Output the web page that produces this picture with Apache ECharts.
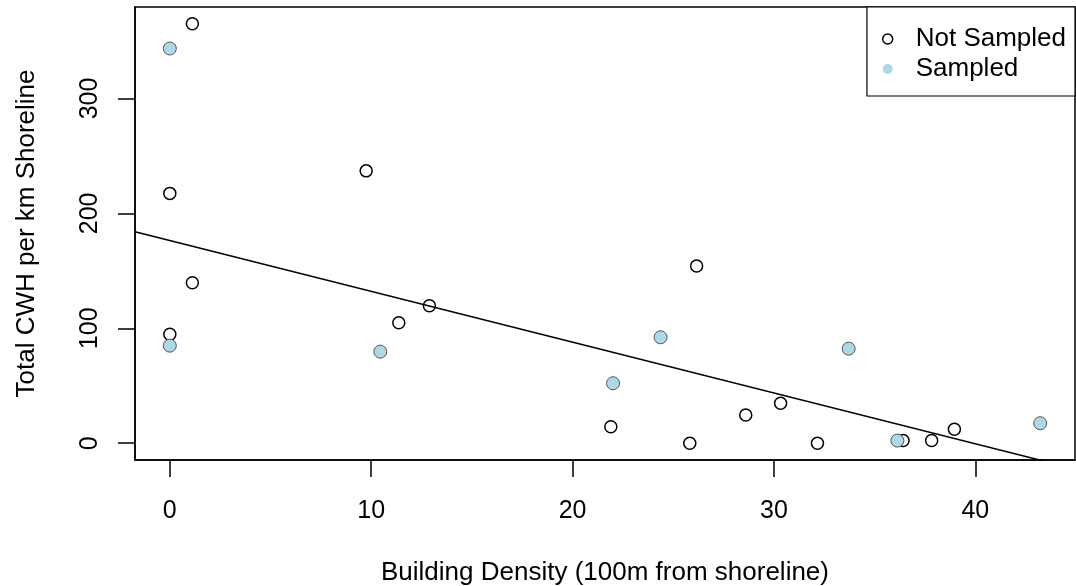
<!DOCTYPE html>
<html>
<head>
<meta charset="utf-8">
<script src="https://cdn.jsdelivr.net/npm/echarts@6/dist/echarts.min.js"></script>
<style>
  html, body { margin: 0; padding: 0; background: #fff; }
  #chart { width: 1076px; height: 586px; }
</style>
</head>
<body>
<div id="chart"></div>
<script>
// building density vs CWH
const notSampledX = [1.12, 9.75, 0, 1.12, 0, 11.37, 12.89, 26.16, 21.9, 25.82, 28.6, 30.33, 32.16, 36.41, 37.83, 38.96];
const notSampledY = [365, 237, 217.4, 139.7, 94.8, 104.9, 119.7, 154.2, 14.4, 0, 24.6, 34.8, 0, 2.3, 2.3, 12.2];
const sampledX = [0, 0, 10.45, 22.01, 24.37, 33.71, 36.13, 43.22];
const sampledY = [343.5, 84.9, 79.7, 52.2, 92.2, 82.3, 2.3, 17.4];
const xTicks = [0, 10, 20, 30, 40];
const yTicks = [0, 100, 200, 300];
// fitted line (lm)
const fitIntercept = 176.3;
const fitSlope = -4.42;

const font = 'Liberation Sans, Arial, Helvetica, sans-serif';

// R style 4% padding on data range
function padRange(vals) {
  let lo = Math.min(...vals), hi = Math.max(...vals);
  let pad = (hi - lo) * 0.04;
  return [lo - pad, hi + pad];
}
let xr = padRange(notSampledX.concat(sampledX));
let yr = padRange(notSampledY.concat(sampledY));

let zip = (xs, ys) => xs.map((x, i) => [x, ys[i]]);
let fitLine = xr.map(x => [x, fitIntercept + fitSlope * x]);

let axisLineStyle = { color: '#000', width: 1.5 };

let option = {
  animation: false,
  backgroundColor: '#fff',
  grid: {
    left: 135, top: 7, right: 1, bottom: 126,
    outerBoundsMode: 'none',
    containLabel: false,
    show: true, borderColor: '#000', borderWidth: 1.5, backgroundColor: 'transparent'
  },
  legend: {
    orient: 'vertical',
    right: 1, top: 7,
    padding: [19, 9, 14, 15],
    itemGap: 4,
    itemWidth: 46,
    itemHeight: 10,
    borderColor: '#000',
    borderWidth: 1.2,
    backgroundColor: '#fff',
    textStyle: { fontFamily: font, fontSize: 26, color: '#000', lineHeight: 26 },
    data: [
      { name: 'Not Sampled', icon: 'circle', itemStyle: { color: '#fff', borderColor: '#000', borderWidth: 1.5 } },
      { name: 'Sampled', icon: 'circle', itemStyle: { color: '#add8e6', borderWidth: 0 } }
    ]
  },
  xAxis: {
    type: 'value',
    position: 'bottom',
    min: xr[0], max: xr[1],
    name: 'Building Density (100m from shoreline)',
    nameLocation: 'middle',
    nameGap: 100,
    nameTextStyle: { fontFamily: font, fontSize: 26, color: '#000' },
    axisLine: { show: true, onZero: false, lineStyle: axisLineStyle },
    splitLine: { show: false },
    axisTick: { show: true, inside: false, length: 17, customValues: xTicks, lineStyle: axisLineStyle },
    axisLabel: { customValues: xTicks, margin: 39, fontFamily: font, fontSize: 25, color: '#000' }
  },
  yAxis: {
    type: 'value',
    min: yr[0], max: yr[1],
    name: 'Total CWH per km Shoreline',
    nameLocation: 'middle',
    nameGap: 95,
    nameRotate: 90,
    nameTextStyle: { fontFamily: font, fontSize: 26, color: '#000' },
    axisLine: { show: true, onZero: false, lineStyle: axisLineStyle },
    splitLine: { show: false },
    axisTick: { show: true, inside: false, length: 17, customValues: yTicks, lineStyle: axisLineStyle },
    axisLabel: { customValues: yTicks, rotate: 90, margin: 32, fontFamily: font, fontSize: 25, color: '#000' }
  },
  series: [
    {
      name: 'Not Sampled',
      type: 'scatter',
      symbol: 'circle',
      symbolSize: 12,
      itemStyle: { color: '#fff', borderColor: '#000', borderWidth: 1.5, opacity: 1 },
      data: zip(notSampledX, notSampledY)
    },
    {
      name: 'Sampled',
      type: 'scatter',
      symbol: 'circle',
      symbolSize: 13,
      itemStyle: { color: '#add8e6', borderColor: '#555', borderWidth: 1, opacity: 1 },
      data: zip(sampledX, sampledY)
    },
    {
      name: 'fit',
      type: 'line',
      showSymbol: false,
      symbol: 'none',
      clip: true,
      silent: true,
      lineStyle: { color: '#000', width: 1.5 },
      data: fitLine
    }
  ]
};

echarts.init(document.getElementById('chart')).setOption(option);
</script>
</body>
</html>
